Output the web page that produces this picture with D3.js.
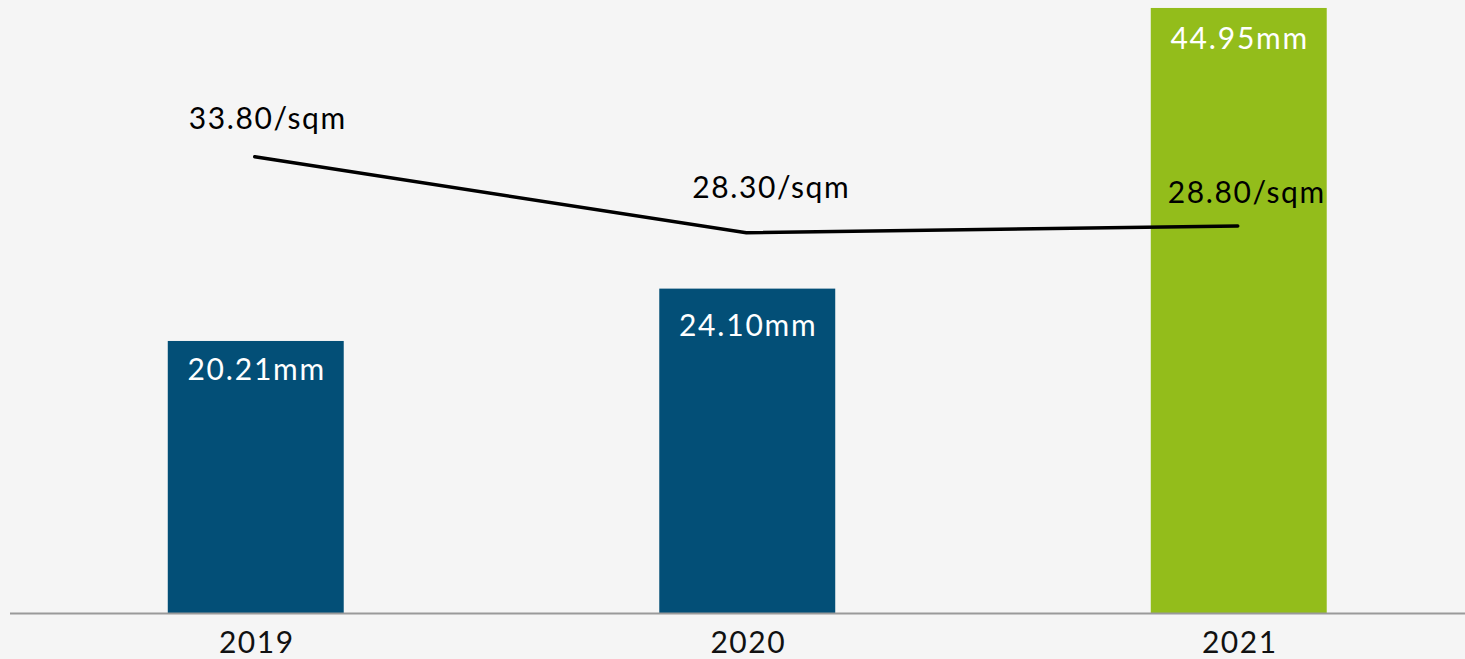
<!DOCTYPE html>
<html>
<head>
<meta charset="utf-8">
<script src="https://cdn.jsdelivr.net/npm/d3@7"></script>
<style>
  html, body { margin: 0; padding: 0; background: #f5f5f5; }
  svg { display: block; }
  text { font-family: Lato, "Noto Sans", sans-serif; }
</style>
</head>
<body>
<svg id="chart" width="1465" height="659"></svg>
<script>
// ---- data ----
const years = ["2019", "2020", "2021"];
const volumeMM = [20.21, 24.10, 44.95];
const volumeLabels = ["20.21mm", "24.10mm", "44.95mm"];
const rentPerSqm = [33.80, 28.30, 28.80];
const rentLabels = ["33.80/sqm", "28.30/sqm", "28.80/sqm"];
const barColors = ["#034f77", "#034f77", "#93bd1b"];

// ---- layout ----
const W = 1465, H = 659;
const baseY = 613;
const svg = d3.select("#chart");
svg.append("rect").attr("width", W).attr("height", H).attr("fill", "#f5f5f5");

const x = d3.scaleBand().domain(years).range([10, 1484.5])
  .paddingInner(0.642).paddingOuter(0.321);
const yBar = d3.scaleLinear().domain([0, 45]).range([baseY, 7.3]);
const yLine = d3.scaleLinear().domain([0, 45]).range([624, 2]);

// bars
svg.selectAll("rect.bar").data(years).enter().append("rect")
  .attr("class", "bar")
  .attr("x", d => x(d))
  .attr("width", x.bandwidth())
  .attr("y", (d, i) => yBar(volumeMM[i]))
  .attr("height", (d, i) => baseY - yBar(volumeMM[i]))
  .attr("fill", (d, i) => barColors[i]);

// bar labels
const barLabelDy = [39, 47, 41];
svg.selectAll("text.barlbl").data(years).enter().append("text")
  .attr("class", "barlbl")
  .attr("x", d => x(d) + x.bandwidth() / 2 + 1)
  .attr("y", (d, i) => yBar(volumeMM[i]) + barLabelDy[i])
  .attr("text-anchor", "middle")
  .attr("fill", "#ffffff")
  .attr("font-size", 30)
  .attr("letter-spacing", 1.8)
  .text((d, i) => volumeLabels[i]);

// axis
const axis = d3.axisBottom(x).tickSize(0).tickPadding(0);
const gAxis = svg.append("g").attr("transform", `translate(0,${baseY})`).call(axis);
gAxis.select(".domain").remove();
svg.append("line").attr("x1", 10).attr("x2", W).attr("y1", baseY + 0.5).attr("y2", baseY + 0.5)
  .attr("stroke", "#9a9a9a").attr("stroke-width", 1.8);
gAxis.selectAll("text")
  .attr("y", 40)
  .attr("dy", 0)
  .attr("x", 1)
  .attr("fill", "#111")
  .attr("font-size", 30)
  .attr("letter-spacing", 1.5)
  .style("font-family", "Lato, 'Noto Sans', sans-serif");

// line
const cx = d => x(d) + x.bandwidth() / 2;
svg.append("path").datum(years)
  .attr("d", d3.line().x(d => cx(d) - 1).y(d => yLine(rentPerSqm[years.indexOf(d)])))
  .attr("fill", "none").attr("stroke", "#000").attr("stroke-width", 3.5)
  .attr("stroke-linecap", "round");

// line labels
const lineLabelOff = [[12, -28], [24, -35], [8, -23]];
svg.selectAll("text.linelbl").data(years).enter().append("text")
  .attr("class", "linelbl")
  .attr("x", (d, i) => cx(d) + lineLabelOff[i][0])
  .attr("y", (d, i) => yLine(rentPerSqm[i]) + lineLabelOff[i][1])
  .attr("text-anchor", "middle")
  .attr("fill", "#000")
  .attr("font-size", 30)
  .attr("letter-spacing", 1.6)
  .text((d, i) => rentLabels[i]);
</script>
</body>
</html>
